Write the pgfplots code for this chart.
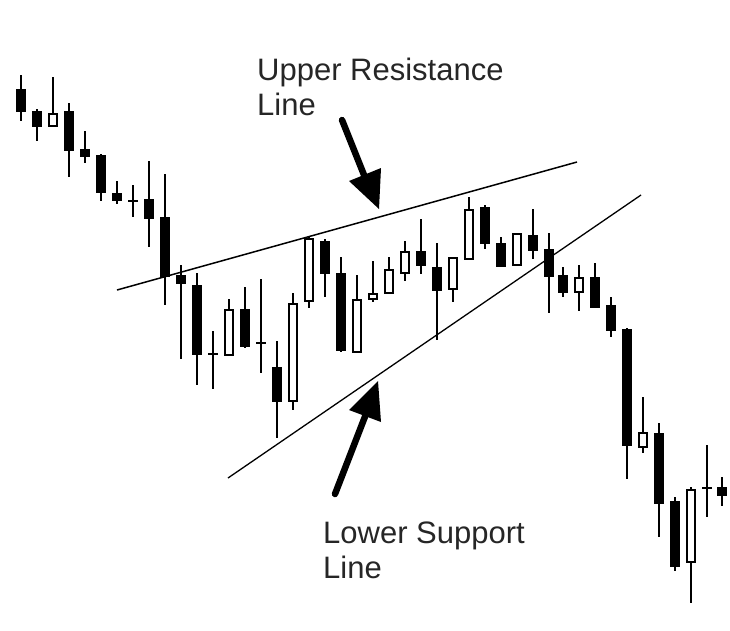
\documentclass[border=0pt]{standalone}
\usepackage{pgfplots}
\pgfplotsset{compat=1.18}
\usepackage{pgfplotstable}
\usepackage{fontspec}
\setmainfont{Liberation Sans}
\definecolor{txt}{HTML}{262626}

% x, wick top, body top, body bottom, wick bottom (image pixel rows)
\pgfplotstableread{
x hi btop bbot lo
21 75 89 112 121
37 109 111 127 141
69 103 111 151 177
85 131 149 157 163
101 154 155 193 201
117 181 193 201 204
133 185 200 202 217
149 161 199 219 247
165 174 217 277 305
181 265 275 284 359
197 273 285 355 385
213 331 353 355 389
245 287 309 347 348
261 279 342 344 373
277 341 367 402 438
325 239 241 274 297
341 257 273 351 352
421 219 251 266 274
437 243 267 291 340
485 205 207 244 249
501 237 243 267 267
533 209 235 251 259
549 233 249 277 313
563 267 275 293 297
595 263 277 308 308
611 297 305 331 337
627 328 329 446 479
659 423 433 504 537
675 497 501 567 571
707 445 487 489 517
722 477 487 496 506
}\blackdata

\pgfplotstableread{
x hi btop bbot lo
53 77 113 127 127
229 299 309 356 356
293 293 303 402 410
309 237 238 302 308
357 275 299 353 353
373 261 293 300 302
389 257 269 294 294
405 241 251 274 281
453 257 257 290 302
469 197 209 260 260
517 233 233 266 266
579 265 277 293 311
643 397 432 448 453
691 487 489 563 603
}\whitedata

\begin{document}
\begin{tikzpicture}
\useasboundingbox (0,0) rectangle (730pt,630pt);
\begin{axis}[
  width=730pt, height=630pt, scale only axis,
  xmin=0, xmax=730, ymin=0, ymax=630, y dir=reverse,
  hide axis, clip=false,
]
% wicks
\addplot[draw=none, error bars/.cd, y dir=plus, y explicit, error mark=none,
  error bar style={draw=black, line width=2pt}]
  table[x=x, y=hi, y error expr=\thisrow{lo}-\thisrow{hi}] {\blackdata};
\addplot[draw=none, error bars/.cd, y dir=plus, y explicit, error mark=none,
  error bar style={draw=black, line width=2pt}]
  table[x=x, y=hi, y error expr=\thisrow{lo}-\thisrow{hi}] {\whitedata};
% black bodies
\addplot[draw=none, error bars/.cd, y dir=plus, y explicit, error mark=none,
  error bar style={draw=black, line width=10pt}]
  table[x=x, y=btop, y error expr=\thisrow{bbot}-\thisrow{btop}] {\blackdata};
% white bodies: outline then inner fill
\addplot[draw=none, error bars/.cd, y dir=plus, y explicit, error mark=none,
  error bar style={draw=black, line width=10pt}]
  table[x=x, y=btop, y error expr=\thisrow{bbot}-\thisrow{btop}] {\whitedata};
\addplot[draw=none, error bars/.cd, y dir=plus, y explicit, error mark=none,
  error bar style={draw=white, line width=6pt}]
  table[x=x, y expr=\thisrow{btop}+2, y error expr=\thisrow{bbot}-\thisrow{btop}-4] {\whitedata};
% trend lines
\addplot[black, line width=1.5pt, mark=none] coordinates {(117,290) (577,162)};
\addplot[black, line width=1.3pt, mark=none] coordinates {(228,478) (641,195)};
% arrows
\draw[line width=6.5pt, line cap=round] (axis cs:342,120) -- (axis cs:366,180);
\fill (axis cs:349,181) -- (axis cs:381,168) -- (axis cs:379,209) -- cycle;
\draw[line width=6.5pt, line cap=round] (axis cs:335,494) -- (axis cs:366,414);
\fill (axis cs:349,410) -- (axis cs:381,422) -- (axis cs:378,381) -- cycle;
% labels
\node[anchor=base west, inner sep=0pt, text=txt, font=\fontsize{31}{35}\selectfont] at (axis cs:257,80) {Upper Resistance};
\node[anchor=base west, inner sep=0pt, text=txt, font=\fontsize{31}{35}\selectfont] at (axis cs:257,115) {Line};
\node[anchor=base west, inner sep=0pt, text=txt, font=\fontsize{31}{35}\selectfont] at (axis cs:323,543) {Lower Support};
\node[anchor=base west, inner sep=0pt, text=txt, font=\fontsize{31}{35}\selectfont] at (axis cs:323,578) {Line};
\end{axis}
\end{tikzpicture}
\end{document}
